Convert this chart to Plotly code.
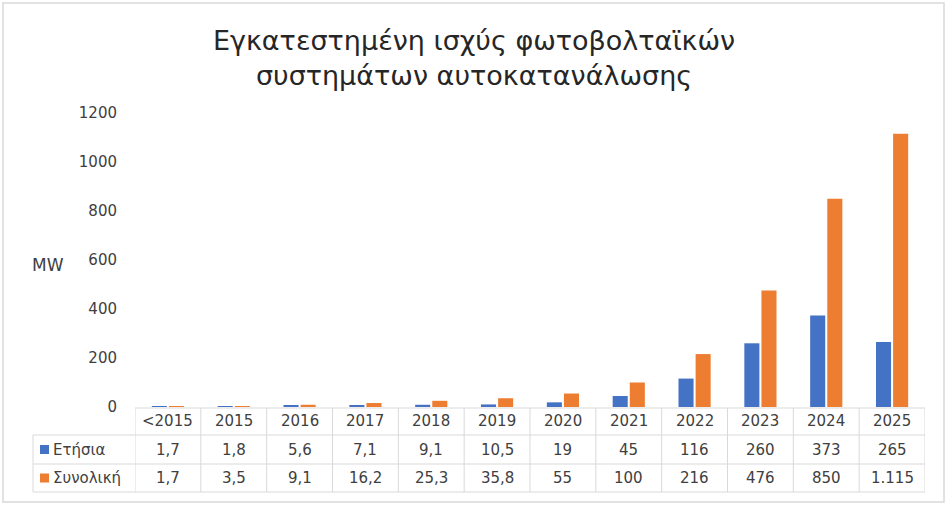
import plotly.graph_objects as go

categories = ["<2015", "2015", "2016", "2017", "2018", "2019", "2020", "2021", "2022", "2023", "2024", "2025"]
annual = [1.7, 1.8, 5.6, 7.1, 9.1, 10.5, 19, 45, 116, 260, 373, 265]
cumulative = [1.7, 3.5, 9.1, 16.2, 25.3, 35.8, 55, 100, 216, 476, 850, 1115]
annual_labels = ["1,7", "1,8", "5,6", "7,1", "9,1", "10,5", "19", "45", "116", "260", "373", "265"]
cumulative_labels = ["1,7", "3,5", "9,1", "16,2", "25,3", "35,8", "55", "100", "216", "476", "850", "1.115"]
series_names = ["Ετήσια", "Συνολική"]
colors = ["#4472C4", "#ED7D31"]
title_text = "Εγκατεστημένη ισχύς φωτοβολταϊκών<br>συστημάτων αυτοκατανάλωσης"

FONT = "DejaVu Sans"
TXT = "#404040"
GRID = "#D9D9D9"

W, H = 948, 505
L, R, T, B = 135, 23, 113, 98
pw, ph = W - L - R, H - T - B


def px_x(px):
    return (px - L) / pw


def px_y(py):
    return (H - B - py) / ph


fig = go.Figure()
for name, vals, col in zip(series_names, [annual, cumulative], colors):
    fig.add_trace(go.Bar(x=list(range(len(categories))), y=vals, name=name,
                         marker=dict(color=col, line=dict(width=0))))

shapes = []
annotations = []
n = len(categories)
row_lines = [408, 435, 464, 492]
shapes.append(dict(type="line", xref="paper", yref="paper", x0=0, x1=1,
                   y0=px_y(row_lines[0]), y1=px_y(row_lines[0]), line=dict(color=GRID, width=1)))
for py in row_lines[1:]:
    shapes.append(dict(type="line", xref="paper", yref="paper", x0=px_x(33), x1=1,
                       y0=px_y(py), y1=px_y(py), line=dict(color=GRID, width=1)))
for i in range(n + 1):
    shapes.append(dict(type="line", xref="x", yref="paper", x0=i - 0.5, x1=i - 0.5,
                       y0=px_y(row_lines[0]), y1=px_y(row_lines[3]), line=dict(color=GRID, width=1)))
shapes.append(dict(type="line", xref="paper", yref="paper", x0=px_x(33), x1=px_x(33),
                   y0=px_y(row_lines[1]), y1=px_y(row_lines[3]), line=dict(color=GRID, width=1)))
shapes.append(dict(type="rect", xref="paper", yref="paper", x0=px_x(3), x1=px_x(944),
                   y0=px_y(502), y1=px_y(3), line=dict(color=GRID, width=1.5)))

row_centers = [(row_lines[k] + row_lines[k + 1]) / 2 for k in range(3)]
cell_font = dict(family=FONT, size=15, color=TXT)
for i, c in enumerate(categories):
    for k, txt in enumerate([c, annual_labels[i], cumulative_labels[i]]):
        annotations.append(dict(x=i, y=px_y(row_centers[k]), xref="x", yref="paper", text=txt,
                                xanchor="center", yanchor="middle", showarrow=False, font=cell_font))

for k, (name, col) in enumerate(zip(series_names, colors)):
    yc = row_centers[k + 1]
    shapes.append(dict(type="rect", xref="paper", yref="paper", x0=px_x(40), x1=px_x(49),
                       y0=px_y(yc + 4.5), y1=px_y(yc - 4.5), fillcolor=col, line=dict(width=0)))
    annotations.append(dict(x=px_x(51), y=px_y(yc), xref="paper", yref="paper", text=name,
                            xanchor="left", yanchor="middle", showarrow=False, font=cell_font))

annotations.append(dict(x=px_x(48), y=px_y(265), xref="paper", yref="paper", text="MW",
                        xanchor="center", yanchor="middle", showarrow=False,
                        font=dict(family=FONT, size=17, color=TXT)))

fig.update_layout(
    width=W, height=H,
    margin=dict(l=L, r=R, t=T, b=B),
    paper_bgcolor="white", plot_bgcolor="white",
    title=dict(text=title_text, x=0.5, xanchor="center", y=1 - 50 / H, yanchor="top",
               font=dict(family=FONT, size=27, color="#262626")),
    barmode="group", bargap=0.48, bargroupgap=0.12,
    showlegend=False,
    xaxis=dict(range=[-0.5, n - 0.5], showticklabels=False, showgrid=False, zeroline=False,
               showline=False, ticks=""),
    yaxis=dict(range=[0, 1200], dtick=200, showgrid=False, zeroline=False, showline=False,
               ticks="outside", ticklen=14, tickcolor="rgba(0,0,0,0)",
               tickfont=dict(family=FONT, size=15, color=TXT)),
    shapes=shapes, annotations=annotations,
)

fig.write_html("out.html", config={"displayModeBar": False},
               post_script="document.body.style.margin='0px';document.body.style.overflow='hidden';")
